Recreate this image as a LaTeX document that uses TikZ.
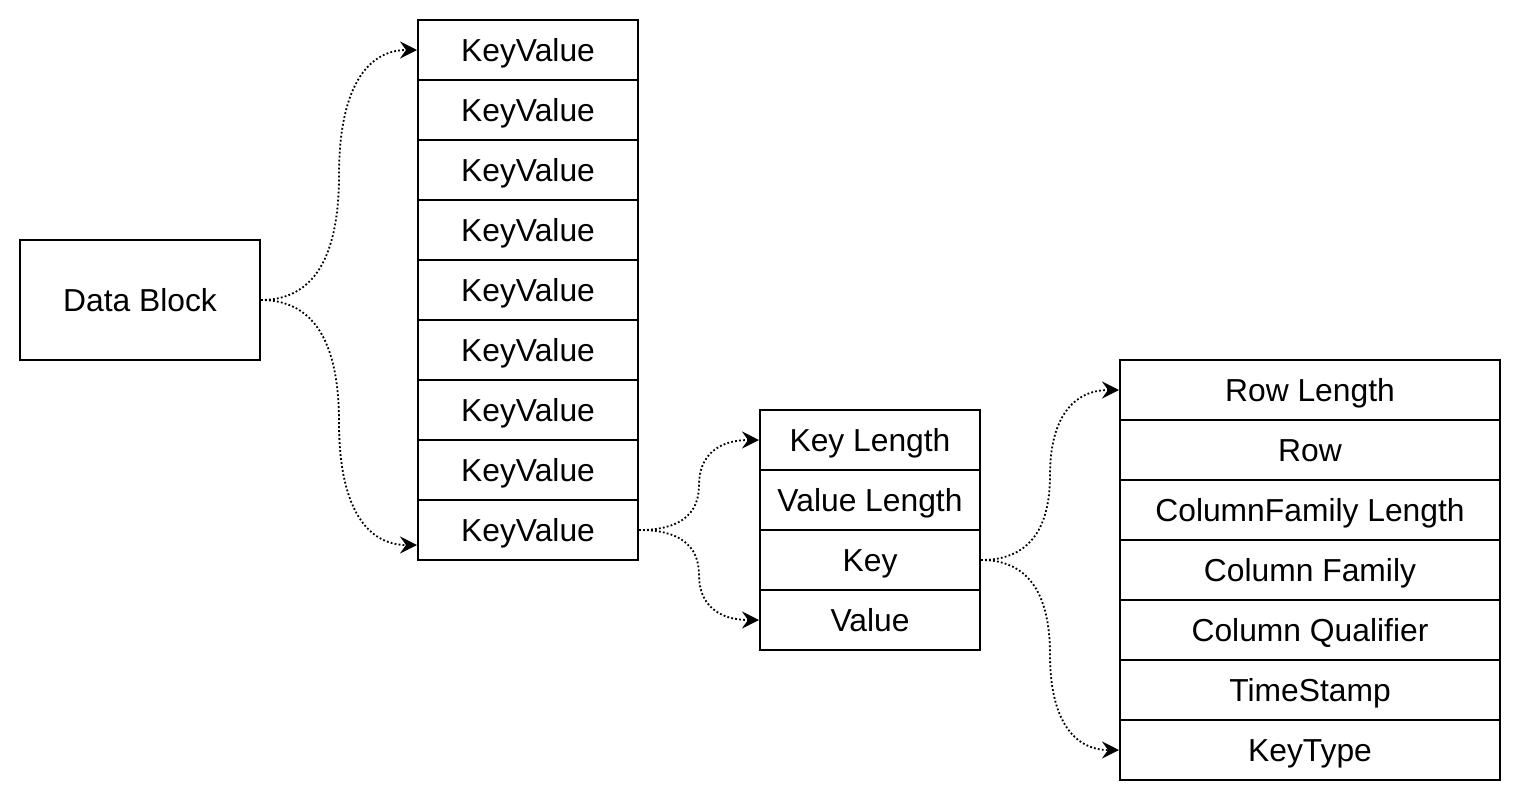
\documentclass[tikz,border=0pt]{standalone}
\usepackage{fontspec}
\setmainfont{Liberation Sans}
\usetikzlibrary{arrows.meta,calc}
\newcommand\linkcurve[2]{%
  \path (#1) coordinate (cS) (#2) coordinate (cE)
        ($(cS)!0.5!(cE)$) coordinate (cQ)
        (cS -| cQ) coordinate (cP) (cE -| cQ) coordinate (cR);
  \draw[link] (cS) .. controls ($(cS)!2/3!(cP)$) and ($(cQ)!2/3!(cP)$) .. (cQ)
                   .. controls ($(cQ)!2/3!(cR)$) and ($(cE)!2/3!(cR)$) .. (cE);}
\begin{document}
\begin{tikzpicture}[x=1pt,y=-1pt,
  cell/.style={draw, line width=2pt, minimum width=220pt, minimum height=60pt,
    inner sep=0pt, text height=22.6pt, text depth=0pt,
    font=\fontsize{31.8}{38}\selectfont},
  link/.style={line width=1.8pt, dash pattern=on 1.8pt off 2.2pt,
    -{Stealth[length=17pt,width=17pt,inset=6pt]}}]
\useasboundingbox[fill=white] (0,0) rectangle (1520,804);
% Data Block
\node[cell, minimum width=240pt, minimum height=120pt] (db) at (140,300) {Data Block};
% KeyValue column
\foreach \i in {1,...,9}{
  \node[cell] (kv\i) at (528,{50+60*(\i-1)}) {KeyValue};
}
% KeyValue parts
\node[cell] (klen) at (870,440) {Key Length};
\node[cell] (vlen) at (870,500) {Value Length};
\node[cell] (key)  at (870,560) {Key};
\node[cell] (val)  at (870,620) {Value};
% Key parts
\node[cell, minimum width=380pt] (rlen) at (1310,390) {Row Length};
\node[cell, minimum width=380pt] (row)  at (1310,450) {Row};
\node[cell, minimum width=380pt] (cflen) at (1310,510) {ColumnFamily Length};
\node[cell, minimum width=380pt] (cf)   at (1310,570) {Column Family};
\node[cell, minimum width=380pt] (cq)   at (1310,630) {Column Qualifier};
\node[cell, minimum width=380pt] (ts)   at (1310,690) {TimeStamp};
\node[cell, minimum width=380pt] (kt)   at (1310,750) {KeyType};
% connectors
\coordinate (kv9in) at ($(kv9.west)+(0,15)$);
\linkcurve{db.east}{kv1.west}
\linkcurve{db.east}{kv9in}
\linkcurve{kv9.east}{klen.west}
\linkcurve{kv9.east}{val.west}
\linkcurve{key.east}{rlen.west}
\linkcurve{key.east}{kt.west}
\end{tikzpicture}
\end{document}
